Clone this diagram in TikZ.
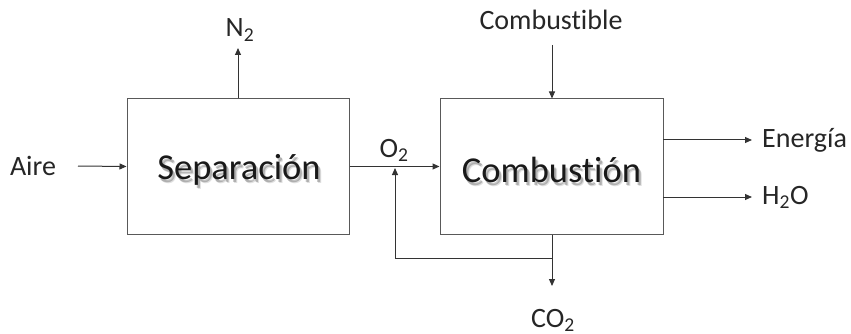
\documentclass[tikz,border=0pt]{standalone}
\usepackage{fontspec}
\setmainfont{Carlito}[Ligatures={NoCommon}]
\usetikzlibrary{arrows.meta}
\tikzset{
  box/.style={draw=black!65, line width=1pt, minimum width=222pt, minimum height=135pt, inner sep=0pt},
  lbl/.style={font=\fontsize{28}{32}\selectfont, text=black!85, inner sep=0pt},
  big/.style={font=\fontsize{36.5}{40}\selectfont, inner sep=0pt},
  conn/.style={draw=black!80, line width=1pt},
  arr/.style={conn, -{Triangle[length=7pt,width=6pt]}}
}
\newcommand{\shadowtext}[3]{%
  \node[big, text=black, opacity=0.22] at ([xshift=2pt,yshift=-2.5pt]#1) {#3};
  \node[big, text=black, opacity=0.12] at ([xshift=3pt,yshift=-3.5pt]#1) {#3};
  \node[big, text=black!90] (#2) at (#1) {#3};
}
\begin{document}
\begin{tikzpicture}[x=1pt,y=-1pt]
\useasboundingbox (0,0) rectangle (851,334);
\node[box] (sep) at (238,166.5) {};
\node[box, minimum width=223pt] (comb) at (551.5,166.5) {};
\shadowtext{239,170}{septxt}{Separación}
\shadowtext{551.5,170}{combtxt}{Combustión}

\node[lbl] (aire) at (33,166) {Aire};
\node[lbl] (n2) at (240,30) {N\textsubscript{2}};
\node[lbl] (o2) at (394,150) {O\textsubscript{2}};
\node[lbl] (fuel) at (551,20) {Combustible};
\node[lbl, anchor=west] (energia) at (762,140) {Energía};
\node[lbl, anchor=west] (h2o) at (762,197) {H\textsubscript{2}O};
\node[lbl] (co2) at (553,320) {CO\textsubscript{2}};

\coordinate (airestart) at (78,166);
\coordinate (n2end) at (238,48);
\coordinate (fuelstart) at (552,45);
\coordinate (j) at (552,258);
\coordinate (co2end) at (552,286);
\coordinate (o2in) at (395,168);
\coordinate (enS) at (663,140);
\coordinate (enE) at (752,140);
\coordinate (hS) at (663,197);
\coordinate (hE) at (752,197);

\draw[arr] (airestart) -- (sep.west);
\draw[arr] (sep.north) -- (n2end);
\draw[arr] (sep.east) -- (comb.west);
\draw[arr] (fuelstart) -- (comb.north -| fuelstart);
\draw[arr] (comb.south -| j) -- (co2end);
\draw[arr] (j) -| (o2in);
\draw[arr] (enS) -- (enE);
\draw[arr] (hS) -- (hE);
\end{tikzpicture}
\end{document}
